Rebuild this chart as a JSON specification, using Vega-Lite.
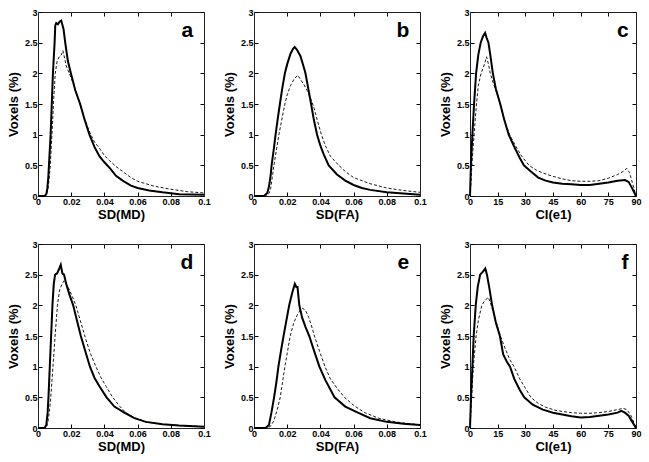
{
"$schema":"https://vega.github.io/schema/vega-lite/v6.json",
"padding":{"left":7,"top":8,"right":5,"bottom":5},
"background":"white",
"config":{"view":{"stroke":null},
"axis":{"labelFont":"Liberation Sans","labelFontWeight":"bold","labelFontSize":9,"labelColor":"black","titleFont":"Liberation Sans","titleFontWeight":"bold","titleFontSize":13,"titleColor":"black","tickColor":"black","domainColor":"#222222","grid":false,"tickSize":-4,"labelPadding":5,"labelFlush":false,"labelOverlap":false,"labelExpr":"'' + datum.value"},
"axisX":{"titlePadding":2},
"axisY":{"titlePadding":4}},
"datasets":{
"lab":[{"p":"a"},{"p":"b"},{"p":"c"},{"p":"d"},{"p":"e"},{"p":"f"}],
"h":[
{"p":"a","s":"s","x":0,"y":0},{"p":"a","s":"s","x":0.004,"y":0},{"p":"a","s":"s","x":0.005,"y":0.03},{"p":"a","s":"s","x":0.0056,"y":0.12},{"p":"a","s":"s","x":0.0062,"y":0.3},{"p":"a","s":"s","x":0.0066,"y":0.5},{"p":"a","s":"s","x":0.0076,"y":1.0},{"p":"a","s":"s","x":0.009,"y":2.0},{"p":"a","s":"s","x":0.01,"y":2.5},{"p":"a","s":"s","x":0.0104,"y":2.78},{"p":"a","s":"s","x":0.011,"y":2.82},{"p":"a","s":"s","x":0.012,"y":2.8},{"p":"a","s":"s","x":0.013,"y":2.84},{"p":"a","s":"s","x":0.014,"y":2.86},{"p":"a","s":"s","x":0.0146,"y":2.8},{"p":"a","s":"s","x":0.0154,"y":2.72},{"p":"a","s":"s","x":0.0164,"y":2.5},{"p":"a","s":"s","x":0.018,"y":2.2},{"p":"a","s":"s","x":0.0198,"y":2.0},{"p":"a","s":"s","x":0.0225,"y":1.72},{"p":"a","s":"s","x":0.0254,"y":1.5},{"p":"a","s":"s","x":0.028,"y":1.25},{"p":"a","s":"s","x":0.031,"y":1.0},{"p":"a","s":"s","x":0.034,"y":0.8},{"p":"a","s":"s","x":0.037,"y":0.65},{"p":"a","s":"s","x":0.04,"y":0.55},{"p":"a","s":"s","x":0.0434,"y":0.45},{"p":"a","s":"s","x":0.047,"y":0.33},{"p":"a","s":"s","x":0.051,"y":0.25},{"p":"a","s":"s","x":0.056,"y":0.17},{"p":"a","s":"s","x":0.06,"y":0.13},{"p":"a","s":"s","x":0.067,"y":0.09},{"p":"a","s":"s","x":0.075,"y":0.06},{"p":"a","s":"s","x":0.085,"y":0.03},{"p":"a","s":"s","x":0.1,"y":0.02},
{"p":"a","s":"d","x":0,"y":0},{"p":"a","s":"d","x":0.004,"y":0},{"p":"a","s":"d","x":0.005,"y":0.02},{"p":"a","s":"d","x":0.006,"y":0.1},{"p":"a","s":"d","x":0.0068,"y":0.3},{"p":"a","s":"d","x":0.0074,"y":0.5},{"p":"a","s":"d","x":0.0084,"y":1.0},{"p":"a","s":"d","x":0.0095,"y":1.6},{"p":"a","s":"d","x":0.0104,"y":2.0},{"p":"a","s":"d","x":0.0115,"y":2.2},{"p":"a","s":"d","x":0.013,"y":2.28},{"p":"a","s":"d","x":0.014,"y":2.3},{"p":"a","s":"d","x":0.015,"y":2.37},{"p":"a","s":"d","x":0.016,"y":2.25},{"p":"a","s":"d","x":0.017,"y":2.12},{"p":"a","s":"d","x":0.0188,"y":2.0},{"p":"a","s":"d","x":0.021,"y":1.85},{"p":"a","s":"d","x":0.024,"y":1.6},{"p":"a","s":"d","x":0.027,"y":1.35},{"p":"a","s":"d","x":0.0295,"y":1.15},{"p":"a","s":"d","x":0.0318,"y":1.0},{"p":"a","s":"d","x":0.034,"y":0.88},{"p":"a","s":"d","x":0.037,"y":0.78},{"p":"a","s":"d","x":0.04,"y":0.66},{"p":"a","s":"d","x":0.043,"y":0.58},{"p":"a","s":"d","x":0.047,"y":0.48},{"p":"a","s":"d","x":0.052,"y":0.38},{"p":"a","s":"d","x":0.056,"y":0.3},{"p":"a","s":"d","x":0.06,"y":0.24},{"p":"a","s":"d","x":0.07,"y":0.16},{"p":"a","s":"d","x":0.08,"y":0.11},{"p":"a","s":"d","x":0.09,"y":0.07},{"p":"a","s":"d","x":0.1,"y":0.05},
{"p":"b","s":"s","x":0,"y":0},{"p":"b","s":"s","x":0.006,"y":0},{"p":"b","s":"s","x":0.008,"y":0.05},{"p":"b","s":"s","x":0.009,"y":0.15},{"p":"b","s":"s","x":0.01,"y":0.33},{"p":"b","s":"s","x":0.0106,"y":0.5},{"p":"b","s":"s","x":0.012,"y":0.78},{"p":"b","s":"s","x":0.013,"y":1.0},{"p":"b","s":"s","x":0.0145,"y":1.3},{"p":"b","s":"s","x":0.0156,"y":1.5},{"p":"b","s":"s","x":0.017,"y":1.75},{"p":"b","s":"s","x":0.0186,"y":2.0},{"p":"b","s":"s","x":0.02,"y":2.15},{"p":"b","s":"s","x":0.022,"y":2.32},{"p":"b","s":"s","x":0.0235,"y":2.4},{"p":"b","s":"s","x":0.0245,"y":2.43},{"p":"b","s":"s","x":0.026,"y":2.38},{"p":"b","s":"s","x":0.028,"y":2.28},{"p":"b","s":"s","x":0.03,"y":2.1},{"p":"b","s":"s","x":0.031,"y":2.0},{"p":"b","s":"s","x":0.0325,"y":1.78},{"p":"b","s":"s","x":0.0344,"y":1.5},{"p":"b","s":"s","x":0.036,"y":1.25},{"p":"b","s":"s","x":0.038,"y":1.0},{"p":"b","s":"s","x":0.04,"y":0.82},{"p":"b","s":"s","x":0.042,"y":0.68},{"p":"b","s":"s","x":0.045,"y":0.5},{"p":"b","s":"s","x":0.05,"y":0.35},{"p":"b","s":"s","x":0.055,"y":0.25},{"p":"b","s":"s","x":0.06,"y":0.18},{"p":"b","s":"s","x":0.065,"y":0.13},{"p":"b","s":"s","x":0.07,"y":0.1},{"p":"b","s":"s","x":0.08,"y":0.06},{"p":"b","s":"s","x":0.09,"y":0.04},{"p":"b","s":"s","x":0.1,"y":0.02},
{"p":"b","s":"d","x":0,"y":0},{"p":"b","s":"d","x":0.007,"y":0},{"p":"b","s":"d","x":0.009,"y":0.04},{"p":"b","s":"d","x":0.01,"y":0.12},{"p":"b","s":"d","x":0.011,"y":0.3},{"p":"b","s":"d","x":0.012,"y":0.5},{"p":"b","s":"d","x":0.0135,"y":0.75},{"p":"b","s":"d","x":0.015,"y":1.0},{"p":"b","s":"d","x":0.017,"y":1.28},{"p":"b","s":"d","x":0.0186,"y":1.5},{"p":"b","s":"d","x":0.02,"y":1.65},{"p":"b","s":"d","x":0.022,"y":1.8},{"p":"b","s":"d","x":0.024,"y":1.9},{"p":"b","s":"d","x":0.0264,"y":1.97},{"p":"b","s":"d","x":0.028,"y":1.9},{"p":"b","s":"d","x":0.03,"y":1.82},{"p":"b","s":"d","x":0.032,"y":1.72},{"p":"b","s":"d","x":0.034,"y":1.6},{"p":"b","s":"d","x":0.036,"y":1.45},{"p":"b","s":"d","x":0.038,"y":1.25},{"p":"b","s":"d","x":0.0406,"y":1.0},{"p":"b","s":"d","x":0.043,"y":0.82},{"p":"b","s":"d","x":0.046,"y":0.65},{"p":"b","s":"d","x":0.051,"y":0.5},{"p":"b","s":"d","x":0.055,"y":0.4},{"p":"b","s":"d","x":0.06,"y":0.3},{"p":"b","s":"d","x":0.065,"y":0.25},{"p":"b","s":"d","x":0.07,"y":0.2},{"p":"b","s":"d","x":0.08,"y":0.13},{"p":"b","s":"d","x":0.09,"y":0.09},{"p":"b","s":"d","x":0.1,"y":0.06},
{"p":"c","s":"s","x":0,"y":0},{"p":"c","s":"s","x":0.5,"y":0.5},{"p":"c","s":"s","x":1.3,"y":1.0},{"p":"c","s":"s","x":2.2,"y":1.5},{"p":"c","s":"s","x":3.3,"y":2.0},{"p":"c","s":"s","x":4.5,"y":2.3},{"p":"c","s":"s","x":5.8,"y":2.5},{"p":"c","s":"s","x":7,"y":2.6},{"p":"c","s":"s","x":8.2,"y":2.66},{"p":"c","s":"s","x":9,"y":2.58},{"p":"c","s":"s","x":10,"y":2.5},{"p":"c","s":"s","x":11,"y":2.3},{"p":"c","s":"s","x":12.4,"y":2.0},{"p":"c","s":"s","x":14,"y":1.75},{"p":"c","s":"s","x":16.4,"y":1.5},{"p":"c","s":"s","x":18.5,"y":1.25},{"p":"c","s":"s","x":21,"y":1.0},{"p":"c","s":"s","x":24,"y":0.8},{"p":"c","s":"s","x":27,"y":0.62},{"p":"c","s":"s","x":29.2,"y":0.5},{"p":"c","s":"s","x":33,"y":0.4},{"p":"c","s":"s","x":37,"y":0.3},{"p":"c","s":"s","x":41,"y":0.25},{"p":"c","s":"s","x":45,"y":0.22},{"p":"c","s":"s","x":50,"y":0.2},{"p":"c","s":"s","x":55,"y":0.19},{"p":"c","s":"s","x":60,"y":0.18},{"p":"c","s":"s","x":65,"y":0.18},{"p":"c","s":"s","x":70,"y":0.2},{"p":"c","s":"s","x":75,"y":0.22},{"p":"c","s":"s","x":80,"y":0.25},{"p":"c","s":"s","x":84,"y":0.26},{"p":"c","s":"s","x":86,"y":0.23},{"p":"c","s":"s","x":88,"y":0.12},{"p":"c","s":"s","x":90,"y":0},
{"p":"c","s":"d","x":0,"y":0},{"p":"c","s":"d","x":0.5,"y":0.2},{"p":"c","s":"d","x":1,"y":0.5},{"p":"c","s":"d","x":2.2,"y":1.0},{"p":"c","s":"d","x":3.5,"y":1.5},{"p":"c","s":"d","x":4.5,"y":1.8},{"p":"c","s":"d","x":6,"y":2.0},{"p":"c","s":"d","x":7.5,"y":2.12},{"p":"c","s":"d","x":9,"y":2.27},{"p":"c","s":"d","x":10,"y":2.15},{"p":"c","s":"d","x":11,"y":2.0},{"p":"c","s":"d","x":12.5,"y":1.85},{"p":"c","s":"d","x":14,"y":1.72},{"p":"c","s":"d","x":16.4,"y":1.5},{"p":"c","s":"d","x":19,"y":1.2},{"p":"c","s":"d","x":21.5,"y":1.0},{"p":"c","s":"d","x":25,"y":0.8},{"p":"c","s":"d","x":28,"y":0.65},{"p":"c","s":"d","x":32,"y":0.5},{"p":"c","s":"d","x":36,"y":0.42},{"p":"c","s":"d","x":40,"y":0.37},{"p":"c","s":"d","x":45,"y":0.32},{"p":"c","s":"d","x":50,"y":0.28},{"p":"c","s":"d","x":55,"y":0.25},{"p":"c","s":"d","x":60,"y":0.24},{"p":"c","s":"d","x":65,"y":0.24},{"p":"c","s":"d","x":70,"y":0.25},{"p":"c","s":"d","x":75,"y":0.29},{"p":"c","s":"d","x":80,"y":0.35},{"p":"c","s":"d","x":83,"y":0.4},{"p":"c","s":"d","x":85,"y":0.45},{"p":"c","s":"d","x":86.5,"y":0.38},{"p":"c","s":"d","x":88,"y":0.22},{"p":"c","s":"d","x":90,"y":0},
{"p":"d","s":"s","x":0,"y":0},{"p":"d","s":"s","x":0.004,"y":0},{"p":"d","s":"s","x":0.005,"y":0.05},{"p":"d","s":"s","x":0.0058,"y":0.25},{"p":"d","s":"s","x":0.0063,"y":0.5},{"p":"d","s":"s","x":0.0071,"y":1.0},{"p":"d","s":"s","x":0.0079,"y":1.5},{"p":"d","s":"s","x":0.0087,"y":2.0},{"p":"d","s":"s","x":0.0095,"y":2.35},{"p":"d","s":"s","x":0.0103,"y":2.5},{"p":"d","s":"s","x":0.0115,"y":2.52},{"p":"d","s":"s","x":0.0125,"y":2.58},{"p":"d","s":"s","x":0.0137,"y":2.66},{"p":"d","s":"s","x":0.0147,"y":2.52},{"p":"d","s":"s","x":0.0157,"y":2.5},{"p":"d","s":"s","x":0.017,"y":2.35},{"p":"d","s":"s","x":0.019,"y":2.17},{"p":"d","s":"s","x":0.0212,"y":2.0},{"p":"d","s":"s","x":0.0235,"y":1.75},{"p":"d","s":"s","x":0.0258,"y":1.5},{"p":"d","s":"s","x":0.0285,"y":1.25},{"p":"d","s":"s","x":0.0313,"y":1.0},{"p":"d","s":"s","x":0.034,"y":0.82},{"p":"d","s":"s","x":0.037,"y":0.68},{"p":"d","s":"s","x":0.0413,"y":0.5},{"p":"d","s":"s","x":0.046,"y":0.35},{"p":"d","s":"s","x":0.052,"y":0.25},{"p":"d","s":"s","x":0.058,"y":0.16},{"p":"d","s":"s","x":0.065,"y":0.1},{"p":"d","s":"s","x":0.075,"y":0.06},{"p":"d","s":"s","x":0.085,"y":0.04},{"p":"d","s":"s","x":0.1,"y":0.02},
{"p":"d","s":"d","x":0,"y":0},{"p":"d","s":"d","x":0.005,"y":0},{"p":"d","s":"d","x":0.006,"y":0.1},{"p":"d","s":"d","x":0.007,"y":0.3},{"p":"d","s":"d","x":0.0077,"y":0.5},{"p":"d","s":"d","x":0.009,"y":1.0},{"p":"d","s":"d","x":0.0103,"y":1.5},{"p":"d","s":"d","x":0.0117,"y":2.0},{"p":"d","s":"d","x":0.013,"y":2.25},{"p":"d","s":"d","x":0.0145,"y":2.35},{"p":"d","s":"d","x":0.0157,"y":2.4},{"p":"d","s":"d","x":0.017,"y":2.35},{"p":"d","s":"d","x":0.019,"y":2.25},{"p":"d","s":"d","x":0.021,"y":2.12},{"p":"d","s":"d","x":0.0228,"y":2.0},{"p":"d","s":"d","x":0.0255,"y":1.75},{"p":"d","s":"d","x":0.0282,"y":1.5},{"p":"d","s":"d","x":0.0315,"y":1.22},{"p":"d","s":"d","x":0.0349,"y":1.0},{"p":"d","s":"d","x":0.038,"y":0.82},{"p":"d","s":"d","x":0.041,"y":0.68},{"p":"d","s":"d","x":0.045,"y":0.5},{"p":"d","s":"d","x":0.049,"y":0.36},{"p":"d","s":"d","x":0.053,"y":0.25},{"p":"d","s":"d","x":0.058,"y":0.17},{"p":"d","s":"d","x":0.065,"y":0.1},{"p":"d","s":"d","x":0.075,"y":0.06},{"p":"d","s":"d","x":0.085,"y":0.04},{"p":"d","s":"d","x":0.1,"y":0.02},
{"p":"e","s":"s","x":0,"y":0},{"p":"e","s":"s","x":0.007,"y":0},{"p":"e","s":"s","x":0.009,"y":0.05},{"p":"e","s":"s","x":0.0105,"y":0.25},{"p":"e","s":"s","x":0.0121,"y":0.5},{"p":"e","s":"s","x":0.0135,"y":0.75},{"p":"e","s":"s","x":0.0147,"y":1.0},{"p":"e","s":"s","x":0.0162,"y":1.25},{"p":"e","s":"s","x":0.0178,"y":1.5},{"p":"e","s":"s","x":0.0195,"y":1.75},{"p":"e","s":"s","x":0.0212,"y":2.0},{"p":"e","s":"s","x":0.023,"y":2.2},{"p":"e","s":"s","x":0.0246,"y":2.35},{"p":"e","s":"s","x":0.0255,"y":2.3},{"p":"e","s":"s","x":0.0262,"y":2.3},{"p":"e","s":"s","x":0.0273,"y":2.0},{"p":"e","s":"s","x":0.029,"y":1.8},{"p":"e","s":"s","x":0.031,"y":1.65},{"p":"e","s":"s","x":0.0333,"y":1.5},{"p":"e","s":"s","x":0.0363,"y":1.25},{"p":"e","s":"s","x":0.0394,"y":1.0},{"p":"e","s":"s","x":0.043,"y":0.78},{"p":"e","s":"s","x":0.0485,"y":0.5},{"p":"e","s":"s","x":0.055,"y":0.35},{"p":"e","s":"s","x":0.0626,"y":0.25},{"p":"e","s":"s","x":0.07,"y":0.16},{"p":"e","s":"s","x":0.08,"y":0.1},{"p":"e","s":"s","x":0.09,"y":0.07},{"p":"e","s":"s","x":0.1,"y":0.05},
{"p":"e","s":"d","x":0,"y":0},{"p":"e","s":"d","x":0.008,"y":0},{"p":"e","s":"d","x":0.01,"y":0.03},{"p":"e","s":"d","x":0.012,"y":0.12},{"p":"e","s":"d","x":0.014,"y":0.3},{"p":"e","s":"d","x":0.0158,"y":0.5},{"p":"e","s":"d","x":0.0172,"y":0.75},{"p":"e","s":"d","x":0.0186,"y":1.0},{"p":"e","s":"d","x":0.0202,"y":1.25},{"p":"e","s":"d","x":0.0218,"y":1.5},{"p":"e","s":"d","x":0.024,"y":1.72},{"p":"e","s":"d","x":0.0262,"y":1.85},{"p":"e","s":"d","x":0.0278,"y":1.92},{"p":"e","s":"d","x":0.0293,"y":1.95},{"p":"e","s":"d","x":0.031,"y":1.92},{"p":"e","s":"d","x":0.033,"y":1.8},{"p":"e","s":"d","x":0.0345,"y":1.68},{"p":"e","s":"d","x":0.0364,"y":1.5},{"p":"e","s":"d","x":0.0395,"y":1.25},{"p":"e","s":"d","x":0.0428,"y":1.0},{"p":"e","s":"d","x":0.046,"y":0.8},{"p":"e","s":"d","x":0.05,"y":0.65},{"p":"e","s":"d","x":0.0545,"y":0.5},{"p":"e","s":"d","x":0.06,"y":0.37},{"p":"e","s":"d","x":0.0667,"y":0.25},{"p":"e","s":"d","x":0.075,"y":0.16},{"p":"e","s":"d","x":0.085,"y":0.1},{"p":"e","s":"d","x":0.1,"y":0.05},
{"p":"f","s":"s","x":0,"y":0},{"p":"f","s":"s","x":0.55,"y":0.5},{"p":"f","s":"s","x":1.3,"y":1.0},{"p":"f","s":"s","x":2,"y":1.5},{"p":"f","s":"s","x":3.1,"y":2.0},{"p":"f","s":"s","x":4.2,"y":2.3},{"p":"f","s":"s","x":5.5,"y":2.5},{"p":"f","s":"s","x":7,"y":2.55},{"p":"f","s":"s","x":8.3,"y":2.6},{"p":"f","s":"s","x":9.2,"y":2.5},{"p":"f","s":"s","x":10.5,"y":2.28},{"p":"f","s":"s","x":12,"y":2.0},{"p":"f","s":"s","x":14,"y":1.72},{"p":"f","s":"s","x":16.2,"y":1.5},{"p":"f","s":"s","x":18,"y":1.2},{"p":"f","s":"s","x":20,"y":1.08},{"p":"f","s":"s","x":21.7,"y":1.0},{"p":"f","s":"s","x":24,"y":0.8},{"p":"f","s":"s","x":27,"y":0.62},{"p":"f","s":"s","x":29.4,"y":0.5},{"p":"f","s":"s","x":34,"y":0.38},{"p":"f","s":"s","x":39.5,"y":0.3},{"p":"f","s":"s","x":45,"y":0.25},{"p":"f","s":"s","x":50,"y":0.22},{"p":"f","s":"s","x":55,"y":0.19},{"p":"f","s":"s","x":60,"y":0.17},{"p":"f","s":"s","x":65,"y":0.18},{"p":"f","s":"s","x":70,"y":0.2},{"p":"f","s":"s","x":75,"y":0.22},{"p":"f","s":"s","x":80,"y":0.25},{"p":"f","s":"s","x":82,"y":0.28},{"p":"f","s":"s","x":84,"y":0.25},{"p":"f","s":"s","x":86,"y":0.2},{"p":"f","s":"s","x":88,"y":0.1},{"p":"f","s":"s","x":90,"y":0},
{"p":"f","s":"d","x":0,"y":0},{"p":"f","s":"d","x":0.9,"y":0.5},{"p":"f","s":"d","x":1.8,"y":1.0},{"p":"f","s":"d","x":3.3,"y":1.5},{"p":"f","s":"d","x":4.5,"y":1.75},{"p":"f","s":"d","x":6.4,"y":2.0},{"p":"f","s":"d","x":8,"y":2.08},{"p":"f","s":"d","x":10,"y":2.13},{"p":"f","s":"d","x":11.5,"y":2.0},{"p":"f","s":"d","x":13,"y":1.85},{"p":"f","s":"d","x":14.5,"y":1.7},{"p":"f","s":"d","x":16.5,"y":1.5},{"p":"f","s":"d","x":19,"y":1.3},{"p":"f","s":"d","x":21.5,"y":1.12},{"p":"f","s":"d","x":23.9,"y":1.0},{"p":"f","s":"d","x":27,"y":0.8},{"p":"f","s":"d","x":30,"y":0.65},{"p":"f","s":"d","x":33,"y":0.5},{"p":"f","s":"d","x":37,"y":0.4},{"p":"f","s":"d","x":41,"y":0.34},{"p":"f","s":"d","x":46,"y":0.29},{"p":"f","s":"d","x":50,"y":0.27},{"p":"f","s":"d","x":55,"y":0.25},{"p":"f","s":"d","x":60,"y":0.24},{"p":"f","s":"d","x":65,"y":0.24},{"p":"f","s":"d","x":70,"y":0.25},{"p":"f","s":"d","x":75,"y":0.27},{"p":"f","s":"d","x":80,"y":0.3},{"p":"f","s":"d","x":83,"y":0.32},{"p":"f","s":"d","x":85,"y":0.3},{"p":"f","s":"d","x":87,"y":0.22},{"p":"f","s":"d","x":89,"y":0.08},{"p":"f","s":"d","x":90,"y":0}
]},
"columns":3,
"spacing":{"row":48,"column":50},
"bounds":"flush",
"concat":[
{"width":166,"height":184,"resolve":{"axis":{"x":"independent","y":"independent"}},"layer":[
{"data":{"name":"h"},"transform":[{"filter":"datum.p=='a' && datum.s=='d'"}],"mark":{"type":"line","color":"black","strokeWidth":0.9,"strokeDash":[3,2]},"encoding":{"x":{"field":"x","type":"quantitative","scale":{"domain":[0,0.1],"nice":false},"axis":{"orient":"top","labels":false,"title":null,"values":[0,0.02,0.04,0.06,0.08,0.1]}},"y":{"field":"y","type":"quantitative","scale":{"domain":[0,3],"nice":false},"axis":{"orient":"right","labels":false,"title":null,"values":[0,0.5,1,1.5,2,2.5,3]}}}},
{"data":{"name":"h"},"transform":[{"filter":"datum.p=='a' && datum.s=='s'"}],"mark":{"type":"line","color":"black","strokeWidth":2},"encoding":{"x":{"field":"x","type":"quantitative","scale":{"domain":[0,0.1],"nice":false},"axis":{"title":"SD(MD)","values":[0,0.02,0.04,0.06,0.08,0.1]}},"y":{"field":"y","type":"quantitative","scale":{"domain":[0,3],"nice":false},"axis":{"title":"Voxels (%)","values":[0,0.5,1,1.5,2,2.5,3]}}}},
{"data":{"name":"lab"},"transform":[{"filter":"datum.p=='a'"}],"mark":{"type":"text","align":"right","baseline":"alphabetic","fontSize":21,"fontWeight":"bold","font":"Liberation Sans","color":"black"},"encoding":{"x":{"datum":0.0935,"type":"quantitative","scale":{"domain":[0,0.1],"nice":false},"axis":null},"y":{"datum":2.59,"type":"quantitative","scale":{"domain":[0,3],"nice":false},"axis":null},"text":{"field":"p"}}}
]},
{"width":166,"height":184,"resolve":{"axis":{"x":"independent","y":"independent"}},"layer":[
{"data":{"name":"h"},"transform":[{"filter":"datum.p=='b' && datum.s=='d'"}],"mark":{"type":"line","color":"black","strokeWidth":0.9,"strokeDash":[3,2]},"encoding":{"x":{"field":"x","type":"quantitative","scale":{"domain":[0,0.1],"nice":false},"axis":{"orient":"top","labels":false,"title":null,"values":[0,0.02,0.04,0.06,0.08,0.1]}},"y":{"field":"y","type":"quantitative","scale":{"domain":[0,3],"nice":false},"axis":{"orient":"right","labels":false,"title":null,"values":[0,0.5,1,1.5,2,2.5,3]}}}},
{"data":{"name":"h"},"transform":[{"filter":"datum.p=='b' && datum.s=='s'"}],"mark":{"type":"line","color":"black","strokeWidth":2},"encoding":{"x":{"field":"x","type":"quantitative","scale":{"domain":[0,0.1],"nice":false},"axis":{"title":"SD(FA)","values":[0,0.02,0.04,0.06,0.08,0.1]}},"y":{"field":"y","type":"quantitative","scale":{"domain":[0,3],"nice":false},"axis":{"title":"Voxels (%)","values":[0,0.5,1,1.5,2,2.5,3]}}}},
{"data":{"name":"lab"},"transform":[{"filter":"datum.p=='b'"}],"mark":{"type":"text","align":"right","baseline":"alphabetic","fontSize":21,"fontWeight":"bold","font":"Liberation Sans","color":"black"},"encoding":{"x":{"datum":0.0935,"type":"quantitative","scale":{"domain":[0,0.1],"nice":false},"axis":null},"y":{"datum":2.59,"type":"quantitative","scale":{"domain":[0,3],"nice":false},"axis":null},"text":{"field":"p"}}}
]},
{"width":166,"height":184,"resolve":{"axis":{"x":"independent","y":"independent"}},"layer":[
{"data":{"name":"h"},"transform":[{"filter":"datum.p=='c' && datum.s=='d'"}],"mark":{"type":"line","color":"black","strokeWidth":0.9,"strokeDash":[3,2]},"encoding":{"x":{"field":"x","type":"quantitative","scale":{"domain":[0,90],"nice":false},"axis":{"orient":"top","labels":false,"title":null,"values":[0,15,30,45,60,75,90]}},"y":{"field":"y","type":"quantitative","scale":{"domain":[0,3],"nice":false},"axis":{"orient":"right","labels":false,"title":null,"values":[0,0.5,1,1.5,2,2.5,3]}}}},
{"data":{"name":"h"},"transform":[{"filter":"datum.p=='c' && datum.s=='s'"}],"mark":{"type":"line","color":"black","strokeWidth":2},"encoding":{"x":{"field":"x","type":"quantitative","scale":{"domain":[0,90],"nice":false},"axis":{"title":"CI(e1)","values":[0,15,30,45,60,75,90]}},"y":{"field":"y","type":"quantitative","scale":{"domain":[0,3],"nice":false},"axis":{"title":"Voxels (%)","values":[0,0.5,1,1.5,2,2.5,3]}}}},
{"data":{"name":"lab"},"transform":[{"filter":"datum.p=='c'"}],"mark":{"type":"text","align":"right","baseline":"alphabetic","fontSize":21,"fontWeight":"bold","font":"Liberation Sans","color":"black"},"encoding":{"x":{"datum":86,"type":"quantitative","scale":{"domain":[0,90],"nice":false},"axis":null},"y":{"datum":2.59,"type":"quantitative","scale":{"domain":[0,3],"nice":false},"axis":null},"text":{"field":"p"}}}
]},
{"width":166,"height":184,"resolve":{"axis":{"x":"independent","y":"independent"}},"layer":[
{"data":{"name":"h"},"transform":[{"filter":"datum.p=='d' && datum.s=='d'"}],"mark":{"type":"line","color":"black","strokeWidth":0.9,"strokeDash":[3,2]},"encoding":{"x":{"field":"x","type":"quantitative","scale":{"domain":[0,0.1],"nice":false},"axis":{"orient":"top","labels":false,"title":null,"values":[0,0.02,0.04,0.06,0.08,0.1]}},"y":{"field":"y","type":"quantitative","scale":{"domain":[0,3],"nice":false},"axis":{"orient":"right","labels":false,"title":null,"values":[0,0.5,1,1.5,2,2.5,3]}}}},
{"data":{"name":"h"},"transform":[{"filter":"datum.p=='d' && datum.s=='s'"}],"mark":{"type":"line","color":"black","strokeWidth":2},"encoding":{"x":{"field":"x","type":"quantitative","scale":{"domain":[0,0.1],"nice":false},"axis":{"title":"SD(MD)","values":[0,0.02,0.04,0.06,0.08,0.1]}},"y":{"field":"y","type":"quantitative","scale":{"domain":[0,3],"nice":false},"axis":{"title":"Voxels (%)","values":[0,0.5,1,1.5,2,2.5,3]}}}},
{"data":{"name":"lab"},"transform":[{"filter":"datum.p=='d'"}],"mark":{"type":"text","align":"right","baseline":"alphabetic","fontSize":21,"fontWeight":"bold","font":"Liberation Sans","color":"black"},"encoding":{"x":{"datum":0.0935,"type":"quantitative","scale":{"domain":[0,0.1],"nice":false},"axis":null},"y":{"datum":2.59,"type":"quantitative","scale":{"domain":[0,3],"nice":false},"axis":null},"text":{"field":"p"}}}
]},
{"width":166,"height":184,"resolve":{"axis":{"x":"independent","y":"independent"}},"layer":[
{"data":{"name":"h"},"transform":[{"filter":"datum.p=='e' && datum.s=='d'"}],"mark":{"type":"line","color":"black","strokeWidth":0.9,"strokeDash":[3,2]},"encoding":{"x":{"field":"x","type":"quantitative","scale":{"domain":[0,0.1],"nice":false},"axis":{"orient":"top","labels":false,"title":null,"values":[0,0.02,0.04,0.06,0.08,0.1]}},"y":{"field":"y","type":"quantitative","scale":{"domain":[0,3],"nice":false},"axis":{"orient":"right","labels":false,"title":null,"values":[0,0.5,1,1.5,2,2.5,3]}}}},
{"data":{"name":"h"},"transform":[{"filter":"datum.p=='e' && datum.s=='s'"}],"mark":{"type":"line","color":"black","strokeWidth":2},"encoding":{"x":{"field":"x","type":"quantitative","scale":{"domain":[0,0.1],"nice":false},"axis":{"title":"SD(FA)","values":[0,0.02,0.04,0.06,0.08,0.1]}},"y":{"field":"y","type":"quantitative","scale":{"domain":[0,3],"nice":false},"axis":{"title":"Voxels (%)","values":[0,0.5,1,1.5,2,2.5,3]}}}},
{"data":{"name":"lab"},"transform":[{"filter":"datum.p=='e'"}],"mark":{"type":"text","align":"right","baseline":"alphabetic","fontSize":21,"fontWeight":"bold","font":"Liberation Sans","color":"black"},"encoding":{"x":{"datum":0.0935,"type":"quantitative","scale":{"domain":[0,0.1],"nice":false},"axis":null},"y":{"datum":2.59,"type":"quantitative","scale":{"domain":[0,3],"nice":false},"axis":null},"text":{"field":"p"}}}
]},
{"width":166,"height":184,"resolve":{"axis":{"x":"independent","y":"independent"}},"layer":[
{"data":{"name":"h"},"transform":[{"filter":"datum.p=='f' && datum.s=='d'"}],"mark":{"type":"line","color":"black","strokeWidth":0.9,"strokeDash":[3,2]},"encoding":{"x":{"field":"x","type":"quantitative","scale":{"domain":[0,90],"nice":false},"axis":{"orient":"top","labels":false,"title":null,"values":[0,15,30,45,60,75,90]}},"y":{"field":"y","type":"quantitative","scale":{"domain":[0,3],"nice":false},"axis":{"orient":"right","labels":false,"title":null,"values":[0,0.5,1,1.5,2,2.5,3]}}}},
{"data":{"name":"h"},"transform":[{"filter":"datum.p=='f' && datum.s=='s'"}],"mark":{"type":"line","color":"black","strokeWidth":2},"encoding":{"x":{"field":"x","type":"quantitative","scale":{"domain":[0,90],"nice":false},"axis":{"title":"CI(e1)","values":[0,15,30,45,60,75,90]}},"y":{"field":"y","type":"quantitative","scale":{"domain":[0,3],"nice":false},"axis":{"title":"Voxels (%)","values":[0,0.5,1,1.5,2,2.5,3]}}}},
{"data":{"name":"lab"},"transform":[{"filter":"datum.p=='f'"}],"mark":{"type":"text","align":"right","baseline":"alphabetic","fontSize":21,"fontWeight":"bold","font":"Liberation Sans","color":"black"},"encoding":{"x":{"datum":86,"type":"quantitative","scale":{"domain":[0,90],"nice":false},"axis":null},"y":{"datum":2.59,"type":"quantitative","scale":{"domain":[0,3],"nice":false},"axis":null},"text":{"field":"p"}}}
]}
]
}
